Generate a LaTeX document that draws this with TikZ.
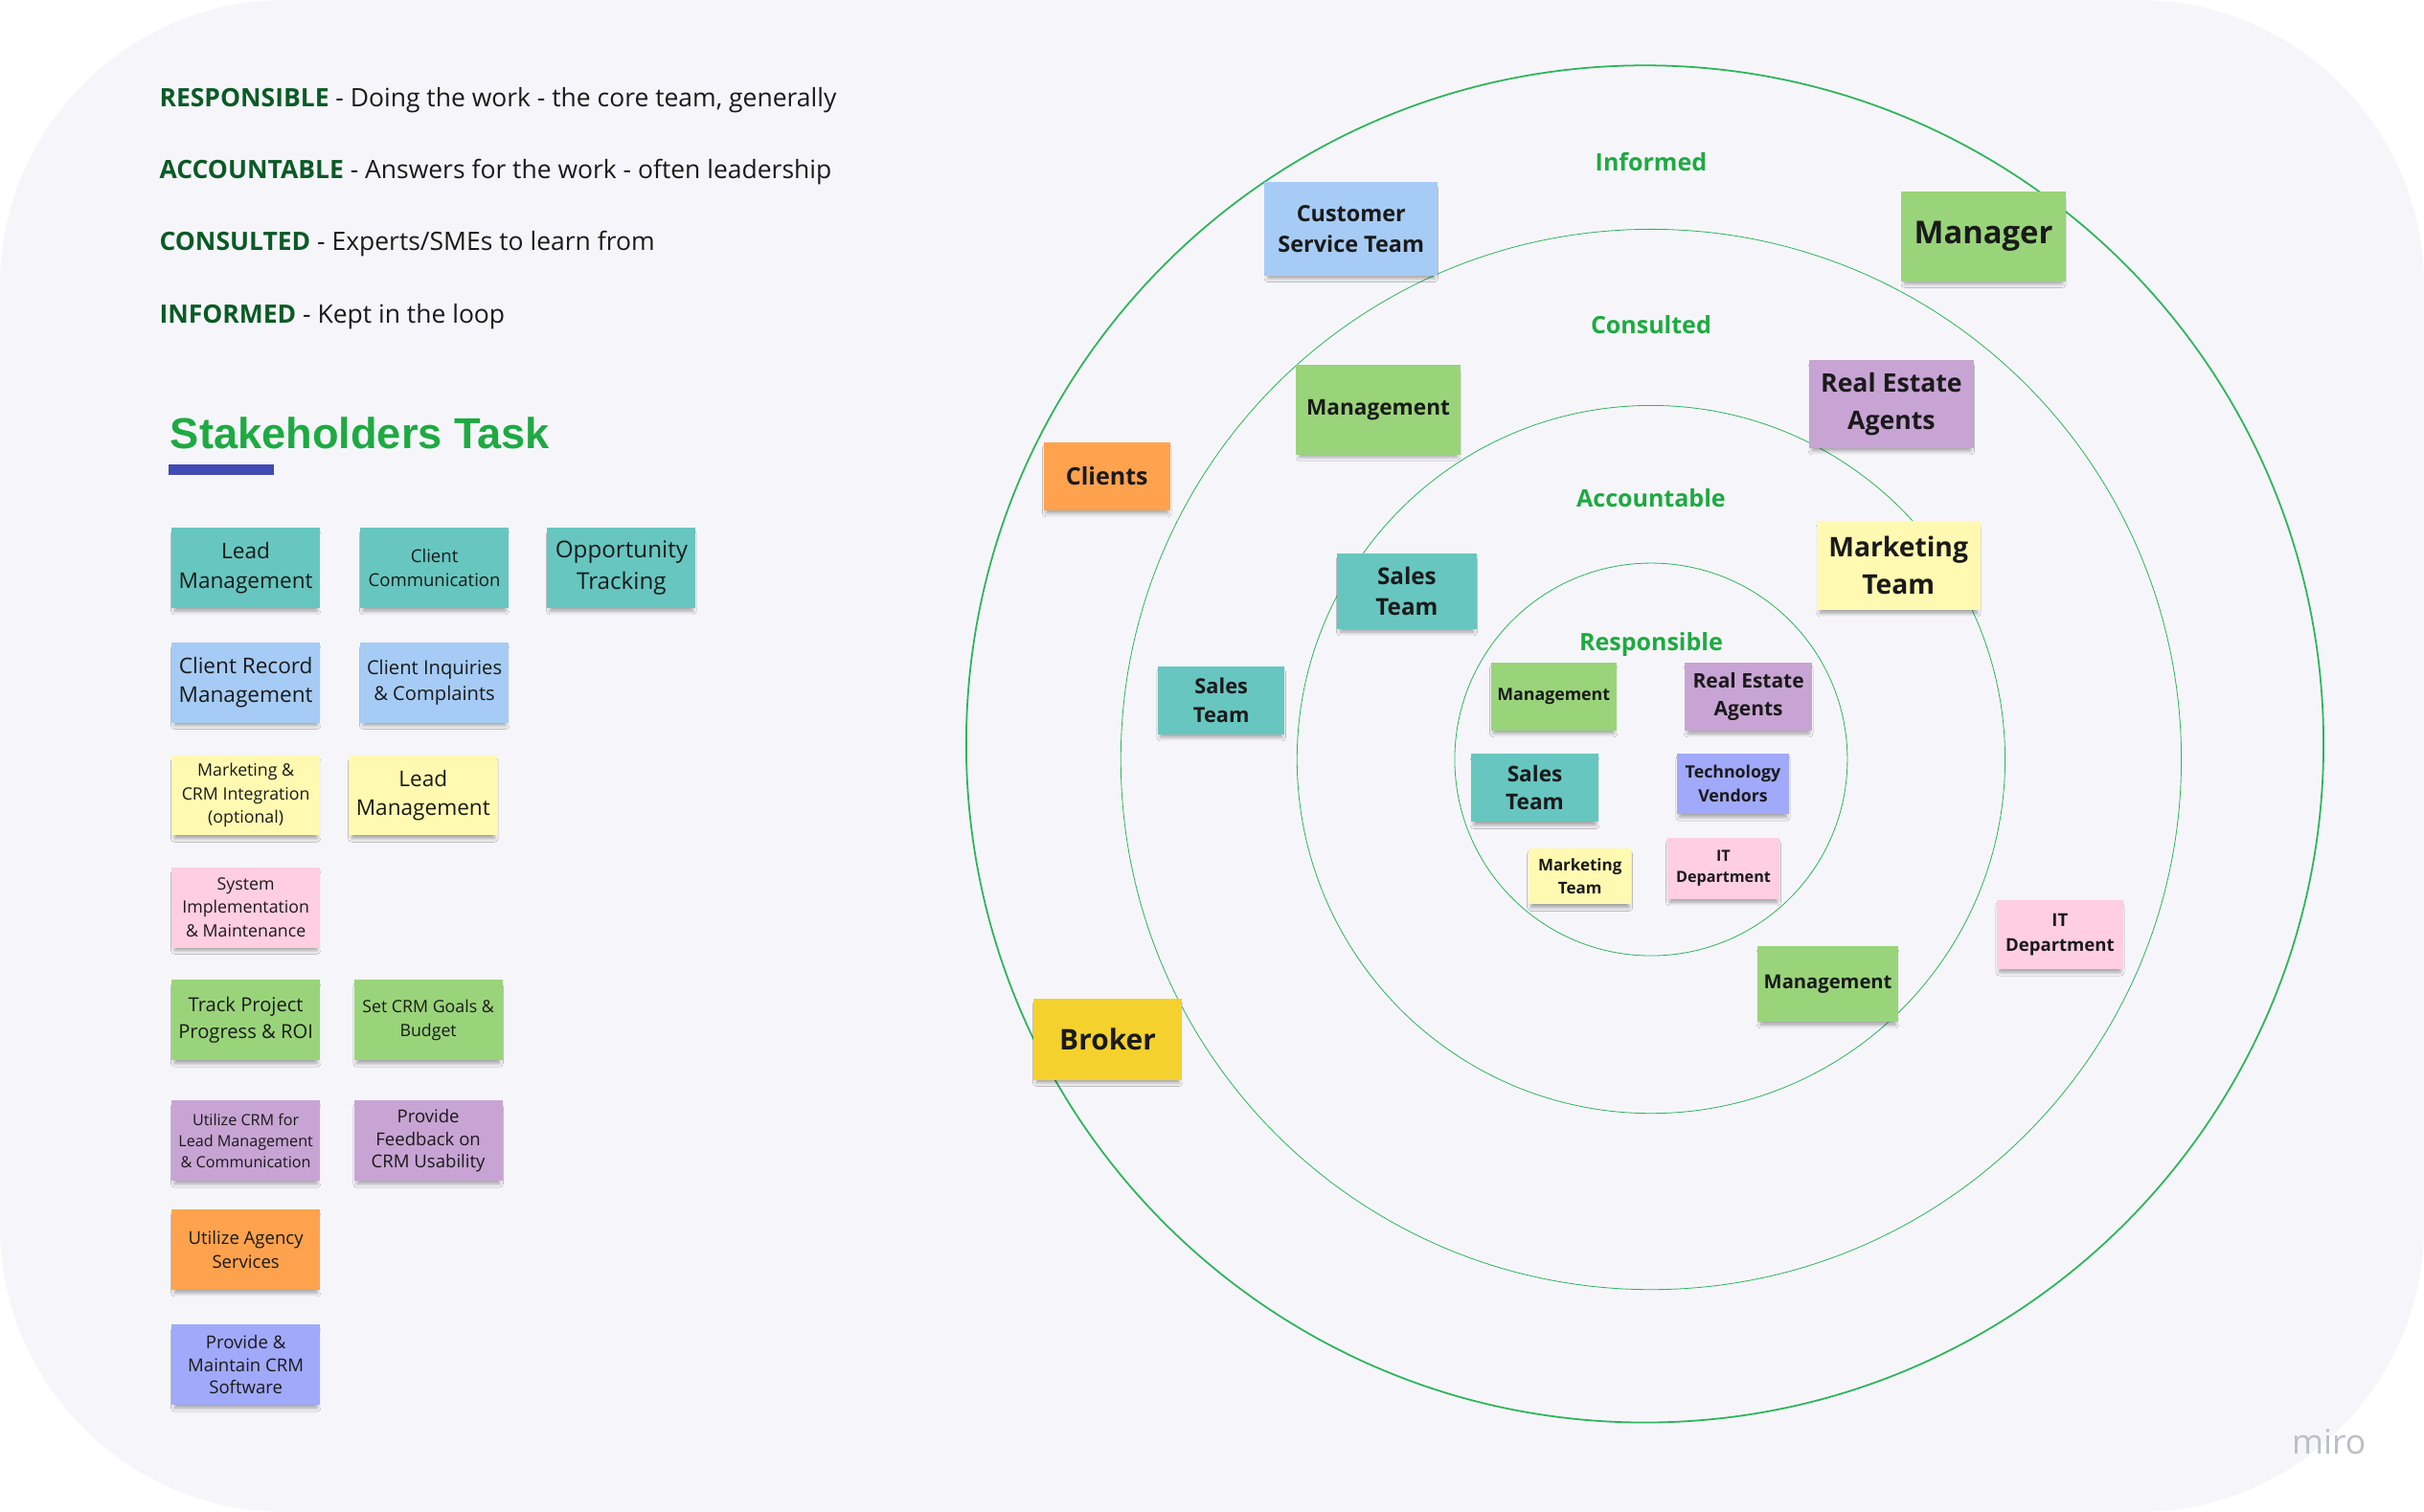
\documentclass[tikz,border=0pt]{standalone}
\usepackage{fontspec}
\setmainfont{Open Sans}
\newfontfamily\arialf{Liberation Sans}
\usetikzlibrary{shadows.blur}
\definecolor{bg}{HTML}{F6F6FA}
\definecolor{ink}{HTML}{1A1A1A}
\definecolor{dkgreen}{HTML}{0B5A26}
\definecolor{brgreen}{HTML}{1EAA42}
\definecolor{ringc}{HTML}{2DB55A}
\definecolor{barblue}{HTML}{414BB2}
\definecolor{cteal}{HTML}{67C6C0}
\definecolor{cblue}{HTML}{A6CCF5}
\definecolor{cyellow}{HTML}{FFF9B1}
\definecolor{cpink}{HTML}{FFCEE0}
\definecolor{cgreen}{HTML}{99D47A}
\definecolor{cpurple}{HTML}{C8A4D4}
\definecolor{corange}{HTML}{FFA24E}
\definecolor{cviolet}{HTML}{A1A9FA}
\definecolor{cgold}{HTML}{F5D12E}
\definecolor{mirogray}{HTML}{BEBEC8}
\newcommand\fsz[2]{\fontsize{#1}{#2}\selectfont}
\tikzset{
  sticky/.style={rectangle, inner sep=0pt, align=center, text=ink,
    blur shadow={shadow xshift=0pt, shadow yshift=-3pt, shadow scale=0.96,
      shadow blur radius=2.5pt, shadow opacity=35}},
  lsticky/.style={sticky, minimum width=96pt, minimum height=52pt},
  ring/.style={draw=ringc, line width=0.5pt},
  lbl/.style={text=brgreen, font=\bfseries\fsz{15.5}{18}, anchor=base},
  legend/.style={anchor=base west, inner sep=0pt, text=ink, font=\fsz{16.4}{20}},
}
\begin{document}
\begin{tikzpicture}[x=1pt,y=-1pt]
\useasboundingbox (0,0) rectangle (1568,978.2);
\fill[white] (0,0) rectangle (1568,978.2);
\fill[bg, rounded corners=185pt] (0,0) rectangle (1568,978.2);

% legend
\node[legend] (lr) at (103,69.2) {\textcolor{dkgreen}{\bfseries RESPONSIBLE} - Doing the work - the core team, generally};
\node[legend] (la) at (103,115.8) {\textcolor{dkgreen}{\bfseries ACCOUNTABLE} - Answers for the work - often leadership};
\node[legend] (lc) at (103,162.2) {\textcolor{dkgreen}{\bfseries CONSULTED} - Experts/SMEs to learn from};
\node[legend] (li) at (103,209) {\textcolor{dkgreen}{\bfseries INFORMED} - Kept in the loop};

\node[anchor=base west, text=brgreen, font=\arialf\bfseries\fsz{28}{30}, inner sep=0pt] (title) at (110,290) {Stakeholders Task};
\fill[barblue] (109,300.5) rectangle (177,307.5);

% left stickies
\node[lsticky, fill=cteal, font=\fsz{14}{19}] (t1) at (159,367.4) {Lead\\Management};
\node[lsticky, fill=cteal, font=\fsz{11.5}{16}] (t2) at (281,367.4) {Client\\Communication};
\node[lsticky, fill=cteal, font=\fsz{15}{20}] (t3) at (402,367.4) {Opportunity\\Tracking};
\node[lsticky, fill=cblue, font=\fsz{14}{19}] (b1) at (159,441.5) {Client Record\\Management};
\node[lsticky, fill=cblue, font=\fsz{12.5}{17}] (b2) at (281,441.5) {Client Inquiries\\\& Complaints};
\node[lsticky, fill=cyellow, font=\fsz{11}{15}] (y1) at (159,514.5) {Marketing \&\\CRM Integration\\(optional)};
\node[lsticky, fill=cyellow, font=\fsz{14}{18.5}] (y2) at (273.7,514.5) {Lead\\Management};
\node[lsticky, fill=cpink, font=\fsz{11}{15}] (p1) at (159,587) {System\\Implementation\\\& Maintenance};
\node[lsticky, fill=cgreen, font=\fsz{12.5}{17}] (g1) at (159,660) {Track Project\\Progress \& ROI};
\node[lsticky, fill=cgreen, font=\fsz{11}{16}] (g2) at (277,660) {Set CRM Goals \&\\Budget};
\node[lsticky, fill=cpurple, font=\fsz{10}{13.5}] (u1) at (159,738) {Utilize CRM for\\Lead Management\\\& Communication};
\node[lsticky, fill=cpurple, font=\fsz{11.5}{14.5}] (u2) at (277,738) {Provide\\Feedback on\\CRM Usability};
\node[lsticky, fill=corange, font=\fsz{11.5}{15}] (o1) at (159,808.5) {Utilize Agency\\Services};
\node[lsticky, fill=cviolet, font=\fsz{11.5}{14.5}] (v1) at (159,883) {Provide \&\\Maintain CRM\\Software};

% rings
\draw[draw=ringc, line width=1.1pt] (1064,481.3) circle[radius=439pt];
\draw[ring] (1068,491.3) circle[radius=343pt];
\draw[ring] (1068,491.3) circle[radius=229pt];
\draw[ring] (1068,491.3) circle[radius=127pt];

\node[lbl] (linf) at (1068,110.6) {Informed};
\node[lbl] (lcon) at (1068,216) {Consulted};
\node[lbl] (lacc) at (1068,327.8) {Accountable};
\node[lbl] (lres) at (1068,421) {Responsible};

% right stickies
\node[sticky, fill=cblue, minimum width=112pt, minimum height=61pt, font=\bfseries\fsz{14.5}{20}] (cst) at (874,148) {Customer\\Service Team};
\node[sticky, fill=cgreen, minimum width=106pt, minimum height=58pt, font=\bfseries\fsz{20.3}{24}] (mgr) at (1283,153) {Manager};
\node[sticky, fill=cgreen, minimum width=106pt, minimum height=58pt, font=\bfseries\fsz{14}{18}] (mgmtC) at (891.5,265) {Management};
\node[sticky, fill=cpurple, minimum width=107pt, minimum height=57pt, font=\bfseries\fsz{16.5}{24}] (reaC) at (1223.5,261.5) {Real Estate\\Agents};
\node[sticky, fill=corange, minimum width=82pt, minimum height=44pt, font=\bfseries\fsz{15.5}{18}] (clients) at (716,308) {Clients};
\node[sticky, fill=cteal, minimum width=90pt, minimum height=49pt, font=\bfseries\fsz{15}{20}] (salesA) at (910,382.5) {Sales\\Team};
\node[sticky, fill=cyellow, minimum width=106pt, minimum height=58pt, font=\bfseries\fsz{17.5}{24}] (mktA) at (1228,365.8) {Marketing\\Team};
\node[sticky, fill=cteal, minimum width=82pt, minimum height=44pt, font=\bfseries\fsz{13.5}{19}] (salesC) at (790,453) {Sales\\Team};
\node[sticky, fill=cgreen, minimum width=81pt, minimum height=44pt, font=\bfseries\fsz{11}{14}] (mgmtR) at (1005,450.5) {Management};
\node[sticky, fill=cpurple, minimum width=82pt, minimum height=44pt, font=\bfseries\fsz{13}{18}] (reaR) at (1131,450.6) {Real Estate\\Agents};
\node[sticky, fill=cteal, minimum width=82pt, minimum height=44pt, font=\bfseries\fsz{14}{18}] (salesR) at (992.8,509.8) {Sales\\Team};
\node[sticky, fill=cviolet, minimum width=72pt, minimum height=39pt, font=\bfseries\fsz{11}{15}] (techR) at (1121,507) {Technology\\Vendors};
\node[sticky, fill=cyellow, minimum width=66pt, minimum height=36pt, font=\bfseries\fsz{10.5}{15}] (mktR) at (1022,567) {Marketing\\Team};
\node[sticky, fill=cpink, minimum width=72.5pt, minimum height=39.5pt, font=\bfseries\fsz{10}{14}] (itR) at (1114.8,561.8) {IT\\Department};
\node[sticky, fill=cpink, minimum width=81.6pt, minimum height=44.7pt, font=\bfseries\fsz{11.5}{16.5}] (itI) at (1332.5,604.6) {IT\\Department};
\node[sticky, fill=cgreen, minimum width=91pt, minimum height=49pt, font=\bfseries\fsz{12.5}{15}] (mgmtA) at (1182.4,636.5) {Management};
\node[sticky, fill=cgold, minimum width=96pt, minimum height=52.6pt, font=\bfseries\fsz{18.5}{22}] (broker) at (716.5,672.3) {Broker};

\node[text=mirogray, font=\fsz{22}{24}, anchor=base] (miro) at (1506.5,941) {miro};
\end{tikzpicture}
\end{document}
